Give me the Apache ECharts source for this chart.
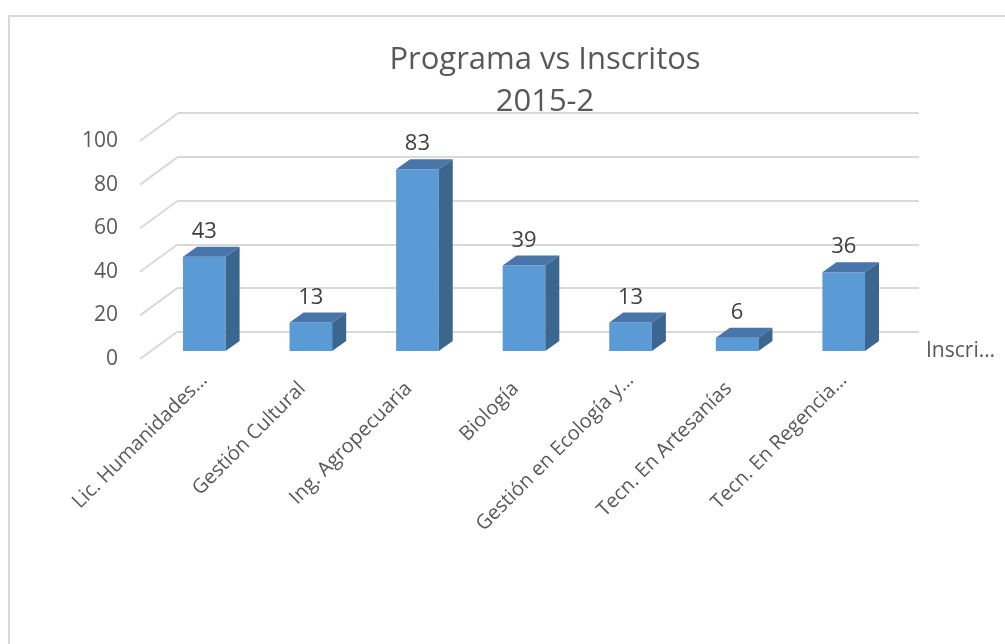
<!DOCTYPE html>
<html lang="es">
<head>
    <meta charset="UTF-8" />
    <title>Programa vs Inscritos</title>
    <script src="https://cdn.jsdelivr.net/npm/echarts@6/dist/echarts.min.js"></script>
</head>
<body style="margin:0">
    <div id="main" style="width: 1005px; height: 644px"></div>
    <script>
        var programas = ["Lic. Humanidades…", "Gestión Cultural", "Ing. Agropecuaria", "Biología",
            "Gestión en Ecología y…", "Tecn. En Artesanías", "Tecn. En Regencia…"];
        var inscritos = [43, 13, 83, 39, 13, 6, 36];
        var yTicks = [0, 20, 40, 60, 80, 100];

        var textColor = "#595959";
        var fontFam = '"Open Sans", sans-serif';
        // desplazamiento de profundidad (efecto 3D)
        var depthBar = [14, -10];
        var depthWall = [37, -27];

        var mCharts = echarts.init(document.getElementById("main"));

        // las etiquetas sin "…" se corren un poco hacia atrás, como en Excel
        var catData = programas.map(function (p) {
            var cut = p.slice(-1) === "…";
            return { value: p, textStyle: { padding: [0, cut ? 0 : 12, 0, 0] } };
        });

        function renderBar(params, api) {
            var idx = api.value(0);
            var val = api.value(1);
            var base = api.coord([idx, 0]);
            var top = api.coord([idx, val]);
            var w = api.size([1, 0])[0] * 0.4;
            var x0 = base[0] - w / 2, x1 = base[0] + w / 2;
            var dx = depthBar[0], dy = depthBar[1];
            return {
                type: "group",
                children: [
                    {
                        type: "rect",
                        shape: { x: x0, y: top[1], width: w, height: base[1] - top[1] },
                        style: { fill: "#5b9bd5" }
                    },
                    {
                        type: "polygon",
                        shape: { points: [[x0, top[1]], [x1, top[1]], [x1 + dx, top[1] + dy], [x0 + dx, top[1] + dy]] },
                        style: { fill: "#4876ab" }
                    },
                    {
                        type: "polygon",
                        shape: { points: [[x1, top[1]], [x1 + dx, top[1] + dy], [x1 + dx, base[1] + dy], [x1, base[1]]] },
                        style: { fill: "#3a6690" }
                    },
                    {
                        type: "text",
                        style: {
                            text: String(val), x: base[0], y: top[1] - 25,
                            align: "center", verticalAlign: "middle",
                            fill: "#404040", font: "22px " + fontFam
                        }
                    }
                ]
            };
        }

        function renderWall(params, api) {
            var p = api.coord([0, api.value(0)]);
            return {
                type: "line",
                shape: { x1: p[0], y1: p[1], x2: p[0] + depthWall[0], y2: p[1] + depthWall[1] },
                style: { stroke: "#d9d9d9", lineWidth: 2 }
            };
        }

        var option = {
            animation: false,
            title: {
                text: "Programa vs Inscritos\n2015-2",
                left: 545, top: 39, padding: 0,
                textAlign: "center",
                textStyle: { fontFamily: fontFam, fontSize: 31, fontWeight: "normal", color: textColor, lineHeight: 42 }
            },
            legend: {
                left: 916, top: 336,
                itemWidth: 0, itemHeight: 0,
                data: ["Inscritos"],
                formatter: function (name) { return name.slice(0, 6) + "…"; },
                textStyle: { fontFamily: fontFam, fontSize: 21, color: textColor }
            },
            graphic: [{
                type: "rect", silent: true,
                shape: { x: 9, y: 16, width: 1000, height: 640 },
                style: { fill: "none", stroke: "#d9d9d9", lineWidth: 2 }
            }],
            grid: [
                // pared del fondo
                { left: 177, right: 86, top: 113, bottom: 312 },
                // plano de las barras
                { left: 151, right: 108, top: 132, bottom: 293 },
                // plano frontal (etiquetas del eje y)
                { left: 140, right: 100, top: 141, bottom: 285 }
            ],
            xAxis: [
                { gridIndex: 0, type: "category", data: programas, show: false },
                {
                    gridIndex: 1, type: "category", data: catData,
                    axisLine: { show: false }, axisTick: { show: false },
                    axisLabel: { rotate: 45, margin: 26, interval: 0, fontFamily: fontFam, fontSize: 20, color: textColor }
                },
                { gridIndex: 2, type: "value", min: 0, max: 1, show: false }
            ],
            yAxis: [
                {
                    gridIndex: 0, type: "value", min: 0, max: 100, interval: 20,
                    axisLabel: { show: false }, axisLine: { show: false }, axisTick: { show: false },
                    splitLine: { lineStyle: { color: "#d9d9d9", width: 2 } }
                },
                { gridIndex: 1, type: "value", min: 0, max: 100, interval: 20, show: false },
                {
                    gridIndex: 2, type: "value", min: 0, max: 100, interval: 20,
                    axisLine: { show: false }, axisTick: { show: false }, splitLine: { show: false },
                    axisLabel: { margin: 22, fontFamily: fontFam, fontSize: 21, color: textColor }
                }
            ],
            series: [
                {
                    type: "custom", name: "muro", xAxisIndex: 2, yAxisIndex: 2,
                    renderItem: renderWall, silent: true,
                    data: yTicks.map(function (v) { return [v]; })
                },
                {
                    type: "custom", name: "Inscritos", xAxisIndex: 1, yAxisIndex: 1,
                    itemStyle: { color: "#5b9bd5" },
                    renderItem: renderBar,
                    encode: { x: 0, y: 1 },
                    data: inscritos.map(function (v, i) { return [i, v]; })
                }
            ]
        };
        mCharts.setOption(option);
    </script>
</body>
</html>
